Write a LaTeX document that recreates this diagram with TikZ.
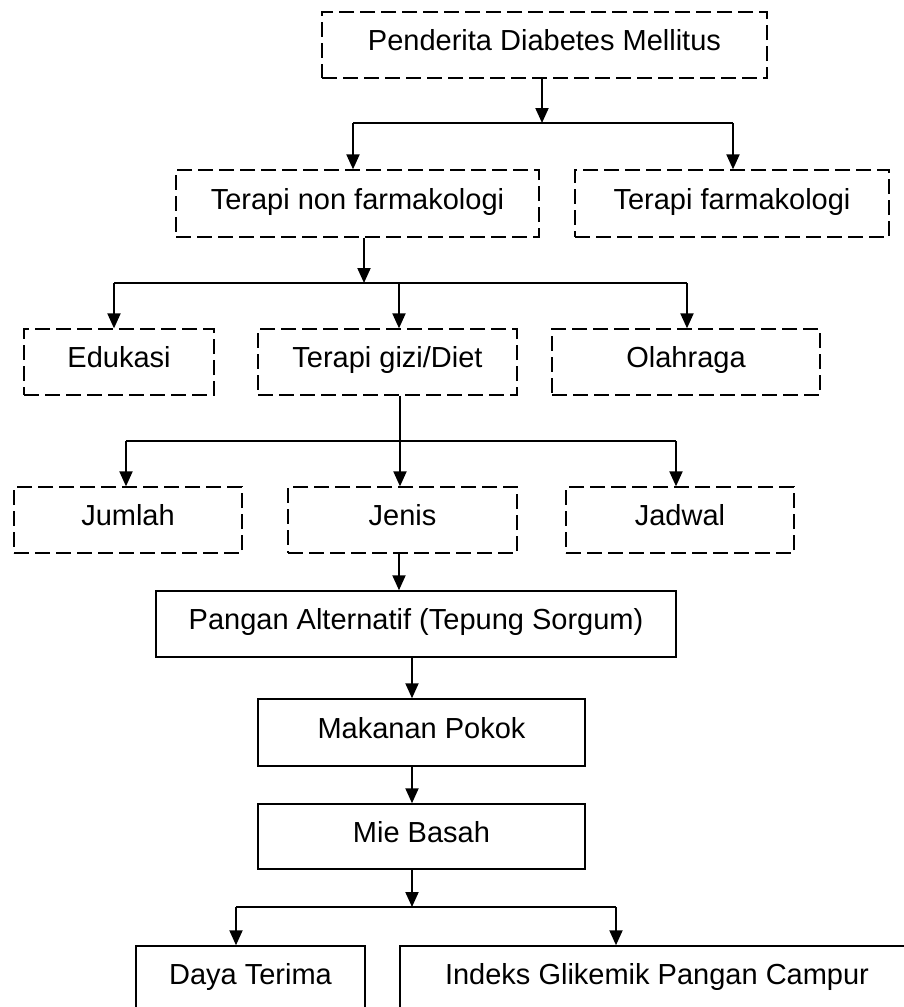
\documentclass[tikz,border=0pt]{standalone}
\usepackage{fontspec}
\setmainfont{Liberation Sans}
\usetikzlibrary{arrows.meta}
\begin{document}
\begin{tikzpicture}[x=1pt,y=-1pt,
  dbox/.style={draw, line width=1.3pt, dash pattern=on 15pt off 6pt, inner sep=0pt,
    font=\fontsize{29}{34}\selectfont, text height=21pt, text depth=10pt},
  sbox/.style={draw, line width=1.5pt, inner sep=0pt,
    font=\fontsize{29}{34}\selectfont, text height=21pt, text depth=10pt},
  ln/.style={line width=2pt},
  arr/.style={line width=2pt, -{Triangle[length=15pt,width=13pt]}}]
\useasboundingbox (0,0) rectangle (904,1007);
\clip (0,0) rectangle (904,1007);
% boxes
\node[dbox, minimum width=445pt, minimum height=66pt] (b1) at (544.5,45) {Penderita Diabetes Mellitus};
\node[dbox, minimum width=363pt, minimum height=67pt] (b2) at (357.5,203.5) {Terapi non farmakologi};
\node[dbox, minimum width=314pt, minimum height=67pt] (b3) at (732,203.5) {Terapi farmakologi};
\node[dbox, minimum width=190pt, minimum height=66pt] (b4) at (119,362) {Edukasi};
\node[dbox, minimum width=259pt, minimum height=66pt] (b5) at (387.5,362) {Terapi gizi/Diet};
\node[dbox, minimum width=268pt, minimum height=66pt] (b6) at (686,362) {Olahraga};
\node[dbox, minimum width=228pt, minimum height=66pt] (b7) at (128,520) {Jumlah};
\node[dbox, minimum width=229pt, minimum height=66pt] (b8) at (402.5,520) {Jenis};
\node[dbox, minimum width=228pt, minimum height=66pt] (b9) at (680,520) {Jadwal};
\node[sbox, minimum width=520pt, minimum height=66pt] (b10) at (416,624) {Pangan Alternatif (Tepung Sorgum)};
\node[sbox, minimum width=327pt, minimum height=67pt] (b11) at (421.5,732.5) {Makanan Pokok};
\node[sbox, minimum width=327pt, minimum height=65pt] (b12) at (421.5,836.5) {Mie Basah};
\node[sbox, minimum width=229pt, minimum height=66pt] (b13) at (250.5,979) {Daya Terima};
\node[sbox, minimum width=514pt, minimum height=66pt] (b14) at (657,979) {Indeks Glikemik Pangan Campur};
% level 1
\coordinate (j1) at (542,123);
\coordinate (j1l) at (353,123);
\coordinate (j1r) at (733,123);
\draw[arr] (b1.south -| j1) -- (j1);
\draw[ln] (j1l) -- (j1r);
\draw[arr] (j1l) -- (j1l |- b2.north);
\draw[arr] (j1r) -- (j1r |- b3.north);
% level 2
\coordinate (j2) at (364,283);
\coordinate (j2l) at (114,283);
\coordinate (j2m) at (399,283);
\coordinate (j2r) at (687,283);
\draw[arr] (b2.south -| j2) -- (j2);
\draw[ln] (j2l) -- (j2r);
\draw[arr] (j2l) -- (j2l |- b4.north);
\draw[arr] (j2m) -- (j2m |- b5.north);
\draw[arr] (j2r) -- (j2r |- b6.north);
% level 3
\coordinate (j3) at (400,441);
\coordinate (j3l) at (126,441);
\coordinate (j3r) at (676,441);
\draw[arr] (b5.south -| j3) -- (j3 |- b8.north);
\draw[ln] (j3l) -- (j3r);
\draw[arr] (j3l) -- (j3l |- b7.north);
\draw[arr] (j3r) -- (j3r |- b9.north);
% chain
\coordinate (c1) at (399,0);
\coordinate (c2) at (412,0);
\draw[arr] (b8.south -| c1) -- (c1 |- b10.north);
\draw[arr] (b10.south -| c2) -- (c2 |- b11.north);
\draw[arr] (b11.south -| c2) -- (c2 |- b12.north);
% bottom
\coordinate (j4) at (412,907);
\coordinate (j4l) at (236,907);
\coordinate (j4r) at (616,907);
\draw[arr] (b12.south -| j4) -- (j4);
\draw[ln] (j4l) -- (j4r);
\draw[arr] (j4l) -- (j4l |- b13.north);
\draw[arr] (j4r) -- (j4r |- b14.north);
\end{tikzpicture}
\end{document}
